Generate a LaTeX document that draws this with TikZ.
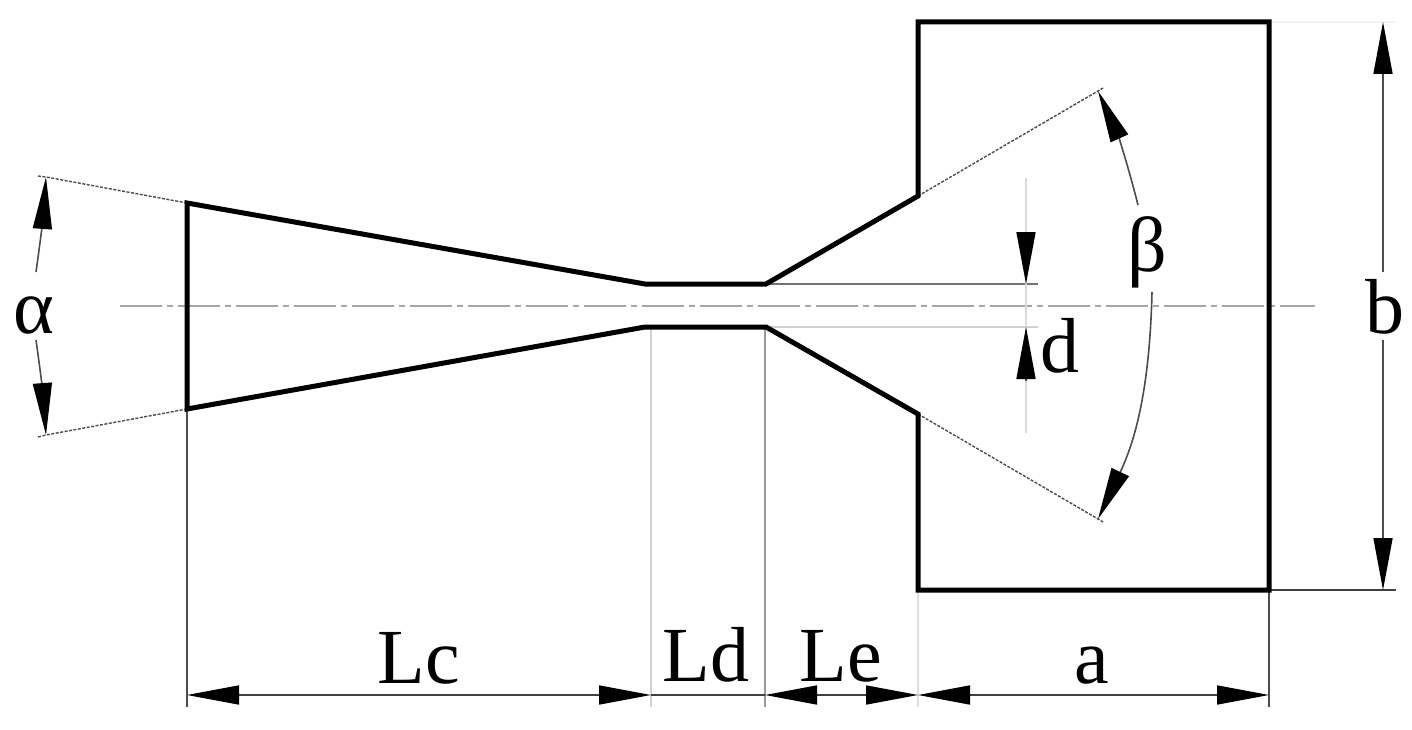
\documentclass[tikz,border=0pt]{standalone}
\usepackage{fontspec}
\setmainfont{Liberation Serif}
\usetikzlibrary{arrows.meta}
\tikzset{
	outline/.style={line width=5pt,line join=miter},
	dimline/.style={line width=1.6pt,black!75,{Triangle[length=52pt,width=19pt,black]}-{Triangle[length=52pt,width=19pt,black]}},
	halfdim/.style={line width=1.6pt,black!70,-{Triangle[length=52pt,width=19pt,black]}},
	extline/.style={line width=1.4pt,black!70,dash pattern=on 3pt off 1.5pt},
	thinline/.style={line width=1.6pt,black!#1},
	axisline/.style={line width=1.5pt,black!35,dash pattern=on 42pt off 5pt on 6pt off 5pt},
	lab/.style={inner sep=0pt,anchor=base,font=\fontsize{78}{78}\selectfont}
}
\begin{document}
\begin{tikzpicture}[x=1pt,y=-1pt]
	\useasboundingbox (0,0) rectangle (1412,730);
	% profile points
	\coordinate (inU) at (187,203);
	\coordinate (inL) at (187,409);
	\coordinate (thU1) at (645,284);
	\coordinate (thU2) at (766,284);
	\coordinate (thL1) at (645,327);
	\coordinate (thL2) at (766,327);
	\coordinate (exU) at (918,196);
	\coordinate (exL) at (918,414);
	\coordinate (boxNW) at (918,22);
	\coordinate (boxNE) at (1269,22);
	\coordinate (boxSE) at (1269,590);
	\coordinate (boxSW) at (918,590);
	% thin lines first
	\draw[axisline] (120,306)--(1315,306);
	\draw[thinline=55] (thU2)--(1038,284);
	\draw[thinline=18] (thL2)--(1038,327);
	\draw[thinline=15] (1026,178)--(1026,433);
	\draw[thinline=70] (inL)--(187,707);
	\draw[thinline=18] (651,327)--(651,707);
	\draw[thinline=40] (765,327)--(765,707);
	\draw[thinline=12] (boxSW)--(918,707);
	\draw[thinline=70] (boxSE)--(1269,707);
	\draw[thinline=75] (boxSE)--(1396,590);
	\draw[thinline=5] (boxNE)--(1396,22);
	% angle rays
	\coordinate (aU) at (46,177);
	\coordinate (aL) at (46,435);
	\coordinate (bU) at (1098,91);
	\coordinate (bL) at (1098,519);
	\draw[extline] (inU)--(aU)--(38,176);
	\draw[extline] (inL)--(aL)--(38,437);
	\draw[extline] (exU)--(bU)--(1103,88);
	\draw[extline] (exL)--(bL)--(1103,522);
	% profile
	\draw[outline] (inU)--(thU1)--(thU2)--(exU)--(boxNW)--(boxNE)--(boxSE)--(boxSW)--(exL)--(thL2)--(thL1)--(inL)--cycle;
	% dimensions
	\coordinate (dA) at (187,695);
	\coordinate (dB) at (651,695);
	\coordinate (dC) at (765,695);
	\coordinate (dD) at (918,695);
	\coordinate (dE) at (1269,695);
	\coordinate (hU) at (1383,22);
	\coordinate (hL) at (1383,590);
	\coordinate (hM1) at (1383,272);
	\coordinate (hM2) at (1383,340);
	\draw[dimline] (dA)--(dB);
	\draw[thinline=75] (dB)--(dC);
	\draw[dimline] (dC)--(dD);
	\draw[dimline] (dD)--(dE);
	\draw[halfdim] (hM1)--(hU);
	\draw[halfdim] (hM2)--(hL);
	\draw[halfdim] (1026,232)--(1026,284);
	\draw[halfdim] (1026,381)--(1026,327);
	% angle arcs
	\coordinate (aM1) at (36,272);
	\coordinate (aM2) at (36,340);
	\coordinate (bM1) at (1138,205);
	\coordinate (bM2) at (1152,292);
	\draw[halfdim] (aM1) to[bend right=2] (aU);
	\draw[halfdim] (aM2) to[bend left=2] (aL);
	\draw[halfdim] (bM1) to[bend right=5] (bU);
	\draw[halfdim] (bM2) to[bend left=12] (bL);
	% labels
	\node[lab] (Lc) at (419,683) {Lc};
	\node[lab] (Ld) at (706,681) {Ld};
	\node[lab] (Le) at (841,681) {Le};
	\node[lab] (la) at (1092,683) {a};
	\node[lab] (lb) at (1385,333) {b};
	\node[lab] (ld) at (1060,372) {d};
	\node[lab] (lalpha) at (34,333) {α};
	\node[lab] (lbeta) at (1147,271) {β};
\end{tikzpicture}
\end{document}
